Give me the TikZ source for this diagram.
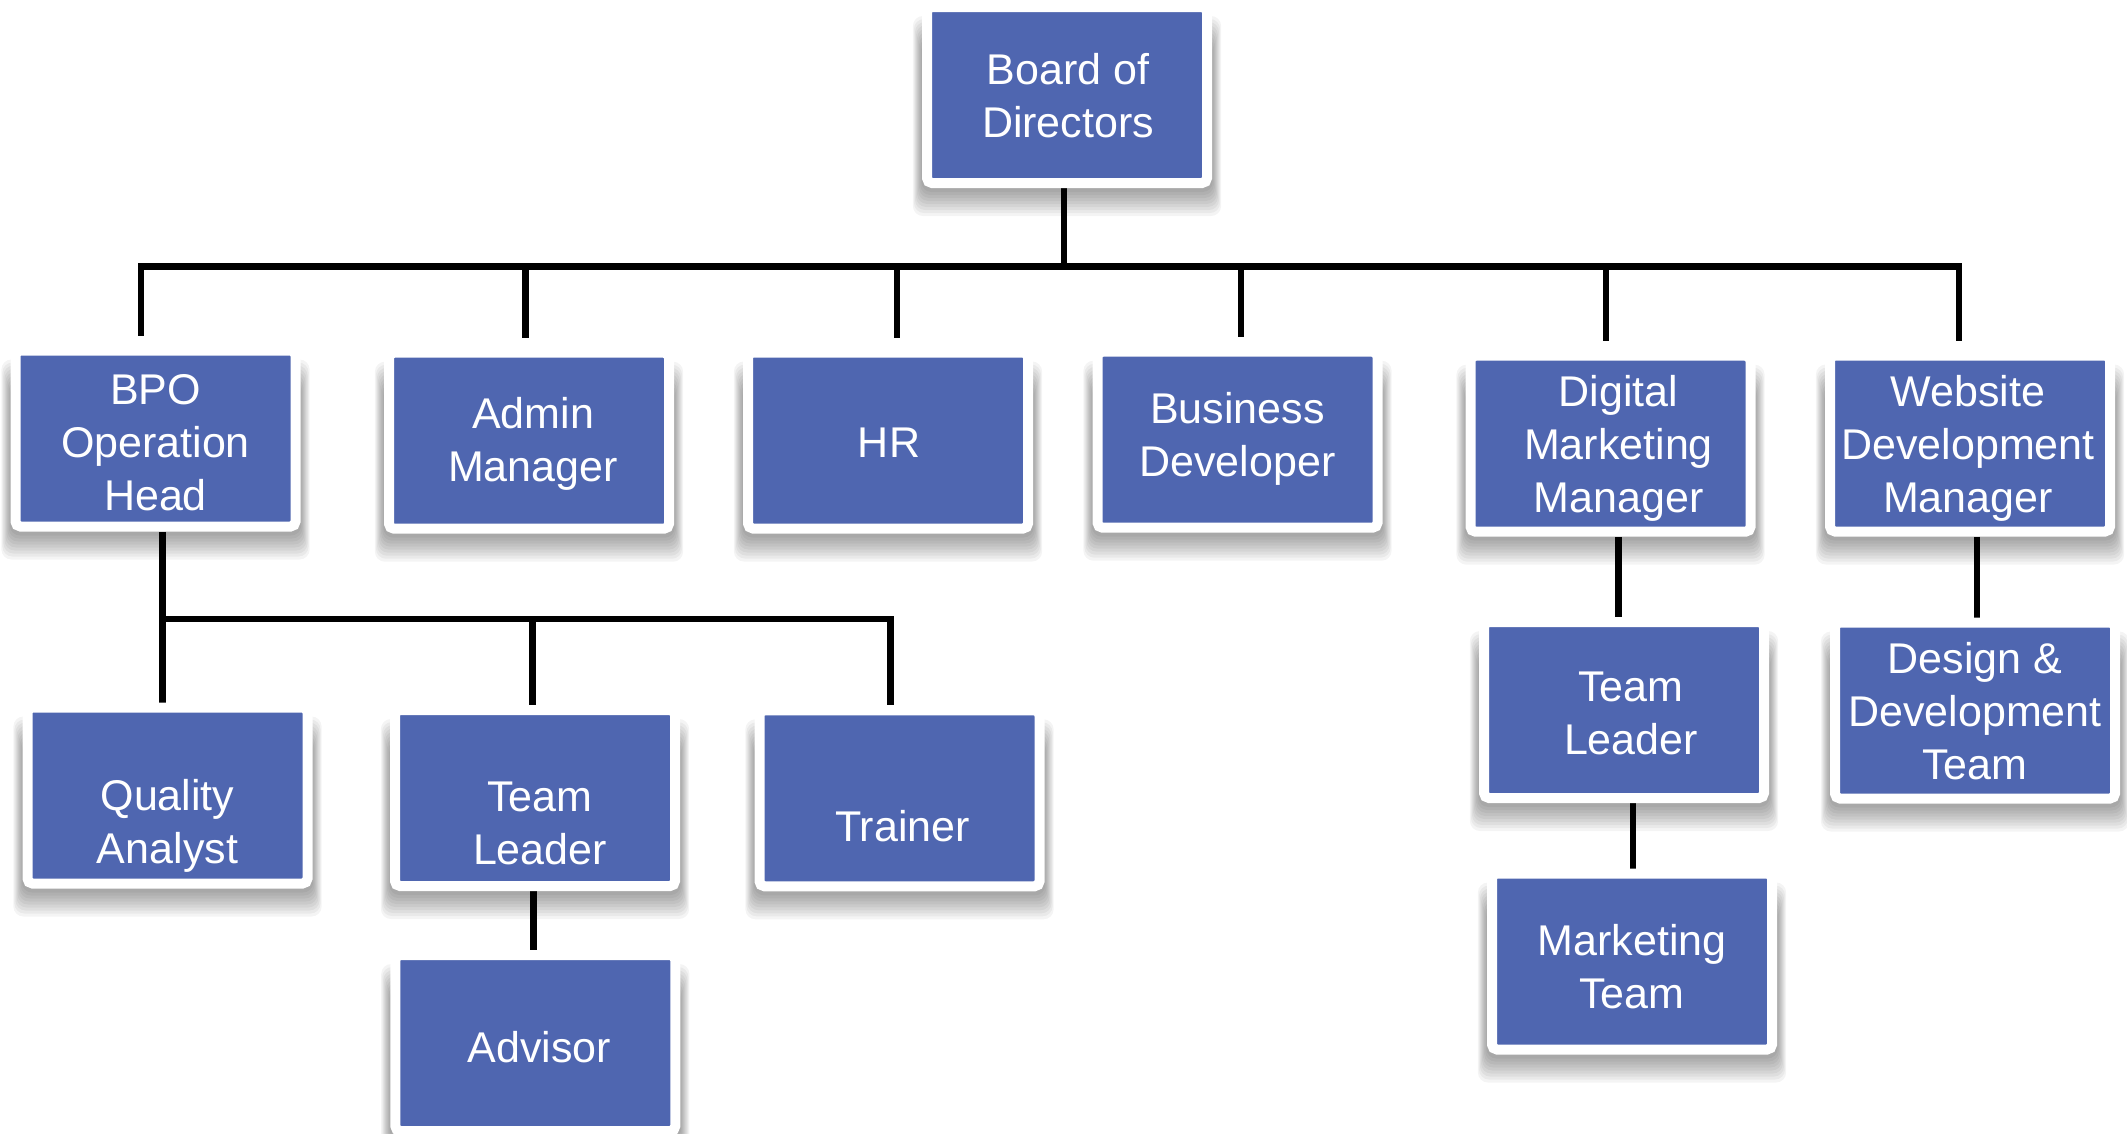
\documentclass[tikz,border=0pt]{standalone}
\usepackage{fontspec}
\setmainfont{Liberation Sans}
\pgfdeclarelayer{back}
\pgfdeclarelayer{shad}
\pgfdeclarelayer{bg}
\pgfsetlayers{back,shad,bg,main}
\definecolor{boxblue}{RGB}{79,102,176}
\tikzset{
  obox/.style={rectangle, draw=white, line width=10pt, fill=boxblue,
    rounded corners=5pt, minimum width=280pt, minimum height=176pt, inner sep=0pt},
  shadowlayer/.style={fill=black, opacity=.045, rounded corners=10pt},
  otext/.style={text=white, align=center, font=\fontsize{43}{53}\selectfont,
    inner sep=0pt, text depth=0pt},
  conn/.style={line width=6.5pt, draw=black},
}
\newcommand\orgbox[5]{%
  \node[obox] (#1) at (#2,#3) {};
  \node[otext] (#1-t) at ([#4]#1.center) {#5};
  \begin{pgfonlayer}{shad}
    \foreach \r in {2,5,...,26}{%
      \fill[shadowlayer] ([xshift={-0.35*\r*1pt}, yshift={-\r*1pt-2pt}]#1.south west)
        rectangle ([xshift={0.35*\r*1pt}, yshift={\r*1pt-40pt}]#1.north east);
    }
  \end{pgfonlayer}
}
\begin{document}
\begin{tikzpicture}[x=1pt,y=-1pt]
\useasboundingbox (0,0) rectangle (2127,1133);
\begin{pgfonlayer}{back}
\fill[white] (0,0) rectangle (2127,1133);
\end{pgfonlayer}

\orgbox{board}{1067}{95}{xshift=1pt}{Board of\\Directors}
\orgbox{bpo}{155.5}{438.5}{yshift=-4pt}{BPO\\Operation\\Head}
\orgbox{admin}{529}{440.7}{xshift=4pt,yshift=1.5pt}{Admin\\Manager}
\orgbox{hr}{888}{440.5}{xshift=1pt,yshift=-2pt}{HR}
\orgbox{busdev}{1237.5}{439.7}{yshift=5.5pt}{Business\\Developer}
\orgbox{dig}{1610.5}{443.7}{xshift=8pt}{Digital\\Marketing\\Manager}
\orgbox{web}{1970}{443.5}{xshift=-2pt}{Website\\Development\\Manager}
\orgbox{qa}{167.5}{795.5}{yshift=-26pt}{Quality\\Analyst}
\orgbox{tla}{535}{798}{xshift=5pt,yshift=-25pt}{Team\\Leader}
\orgbox{trainer}{899.5}{798.3}{xshift=3pt,yshift=-28pt}{Trainer}
\orgbox{advisor}{535.3}{1043}{xshift=4pt,yshift=-3.7pt}{Advisor}
\orgbox{tlb}{1624}{710}{xshift=7pt,yshift=-3pt}{Team\\Leader}
\orgbox{mkt}{1632}{961.5}{yshift=-5pt}{Marketing\\Team}
\orgbox{design}{1975}{710.5}{yshift=0pt}{Design \&\\Development\\Team}

\coordinate (busA) at (0,266.5);
\coordinate (busB) at (0,619);
\coordinate (pBoard) at ([xshift=-3pt]board.south);
\coordinate (pBpo) at ([xshift=-14.5pt,yshift=10pt]bpo.north);
\coordinate (pAdmin) at ([xshift=-3.6pt,yshift=10pt]admin.north);
\coordinate (pHr) at ([xshift=8.8pt,yshift=10pt]hr.north);
\coordinate (pBus) at ([xshift=3.3pt,yshift=10pt]busdev.north);
\coordinate (pDig) at ([xshift=-4.7pt,yshift=10pt]dig.north);
\coordinate (pWeb) at ([xshift=-11pt,yshift=10pt]web.north);
\coordinate (qBpo) at ([xshift=6.8pt]bpo.south);
\coordinate (qTla) at ([xshift=-2.4pt]tla.north);
\coordinate (qTr) at ([xshift=-8.8pt]trainer.north);
\coordinate (sTla) at ([xshift=-1.7pt]tla.south);
\coordinate (sDig) at ([xshift=8.2pt]dig.south);
\coordinate (sTlb) at ([xshift=9pt]tlb.south);
\coordinate (sWeb) at ([xshift=7pt]web.south);

\begin{pgfonlayer}{bg}
\draw[conn] (pBpo) -- (pBpo |- busA) -- (pWeb |- busA) -- (pWeb);
\draw[conn] (pBoard) -- (pBoard |- busA);
\draw[conn] (pAdmin) -- (pAdmin |- busA);
\draw[conn] (pHr) -- (pHr |- busA);
\draw[conn] (pBus) -- (pBus |- busA);
\draw[conn] (pDig) -- (pDig |- busA);
\draw[conn] (qBpo) -- (qBpo |- qa.north);
\draw[conn] (qBpo |- busB) -- (qTr |- busB) -- (qTr);
\draw[conn] (qTla) -- (qTla |- busB);
\draw[conn] (sTla) -- (sTla |- advisor.north);
\draw[conn] (sDig) -- (sDig |- tlb.north);
\draw[conn] (sTlb) -- (sTlb |- mkt.north);
\draw[conn] (sWeb) -- (sWeb |- design.north);
\end{pgfonlayer}
\end{tikzpicture}
\end{document}
